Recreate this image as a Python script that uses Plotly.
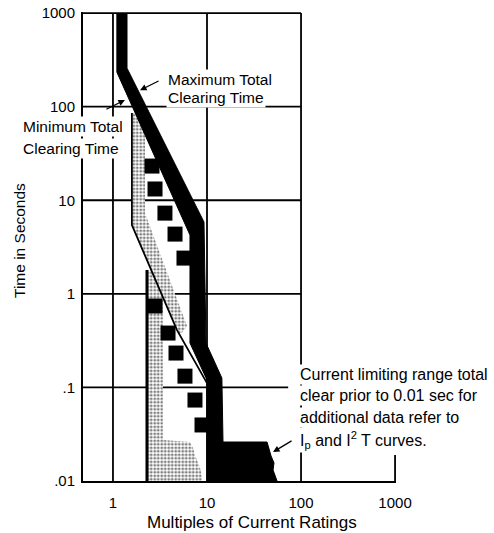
import numpy as np
import plotly.graph_objects as go

# ---------------- data (multiples of current rating, seconds) ----------------
x_tick_values = [1, 10, 100, 1000]
x_tick_labels = ["1", "10", "100", "1000"]
y_tick_values = [0.01, 0.1, 1, 10, 100, 1000]
y_tick_labels = [".01", ".1", "1", "10", "100", "1000"]

# Maximum total clearing time band (solid black)
max_band_current = [1.41, 1.41, 9.29, 9.75, 14.4, 14.8, 43.5, 45.7, 48.0, 51.6, 50.4, 55.6,
                    10.0, 10.0, 6.59, 6.59, 1.10, 1.10]
max_band_time = [1000, 258, 5.85, 0.298, 0.126, 0.0261, 0.0261, 0.0214, 0.0185, 0.0156, 0.0131, 0.01,
                 0.01, 0.120, 0.298, 4.25, 234, 1000]

# Minimum total clearing time band, upper (stippled)
min_upper_current = [1.59, 2.19, 2.19, 6.13, 5.16, 1.59]
min_upper_time = [85.5, 85.5, 7.29, 0.453, 0.363, 5.43]

# Minimum total clearing time band, lower (stippled)
min_lower_current = [2.36, 3.01, 3.40, 3.40, 6.59, 7.10, 7.45, 8.02, 8.43, 8.85, 8.85, 2.36]
min_lower_time = [1.80, 1.80, 1.24, 0.0274, 0.0261, 0.0225, 0.0190, 0.0156, 0.0138, 0.0113, 0.01, 0.01]

# Outline of the minimum band
min_edge_current = [1.59, 1.59, 4.80, 10.0]
min_edge_time = [85.5, 5.43, 0.410, 0.111]
lower_edge_current = [2.30, 2.30]
lower_edge_time = [1.80, 0.01]

# Heavy dashed curves (blocks)
dash_upper_current = [2.60, 2.80, 3.57, 4.57, 5.69]
dash_upper_time = [23.2, 13.2, 7.29, 4.35, 2.41]
dash_lower_current = [2.80, 3.85, 4.68, 5.83, 7.45, 8.85]
dash_lower_time = [0.741, 0.381, 0.233, 0.132, 0.0733, 0.0397]

# Grid extents
h_grid_time = [1000, 100, 10, 1, 0.1]
h_grid_end = [100, 100, 100, 100, 73]
v_grid_current = [1, 10, 100, 1000]
v_grid_top = [1000, 1000, 1000, 0.019]
X_MIN = 0.48

FONT = "Liberation Sans, Arial, sans-serif"

fig = go.Figure()

# grid lines
gx, gy = [], []
for t, e in zip(h_grid_time, h_grid_end):
    gx += [X_MIN, e, None]
    gy += [t, t, None]
for c, top in zip(v_grid_current, v_grid_top):
    gx += [c, c, None]
    gy += [0.01, top, None]
fig.add_trace(go.Scatter(x=gx, y=gy, mode="lines", line=dict(color="black", width=1.8),
                         hoverinfo="skip"))

stipple = dict(shape=".", fgcolor="black", bgcolor="white", size=3.5, solidity=0.5)

fig.add_trace(go.Scatter(x=min_upper_current, y=min_upper_time, mode="lines", fill="toself",
                         fillcolor="white", fillpattern=stipple, line=dict(width=0)))
fig.add_trace(go.Scatter(x=min_lower_current, y=min_lower_time, mode="lines", fill="toself",
                         fillcolor="white", fillpattern=stipple, line=dict(width=0)))
fig.add_trace(go.Scatter(x=min_edge_current, y=min_edge_time, mode="lines",
                         line=dict(color="black", width=1.8)))
fig.add_trace(go.Scatter(x=lower_edge_current, y=lower_edge_time, mode="lines",
                         line=dict(color="black", width=3)))

fig.add_trace(go.Scatter(x=max_band_current, y=max_band_time, mode="lines", fill="toself",
                         fillcolor="black", line=dict(color="black", width=1)))

for xs, ys in [(dash_upper_current, dash_upper_time), (dash_lower_current, dash_lower_time)]:
    fig.add_trace(go.Scatter(x=xs, y=ys, mode="markers",
                             marker=dict(symbol="square", size=15, color="black")))

# ---------------- layout ----------------
L, R, T, B = 83, 98, 12, 52
WIDTH, HEIGHT = 494, 533
PW, PH = WIDTH - L - R, HEIGHT - T - B


def px(xp):
    return (xp - L) / PW


def py(yp):
    return (HEIGHT - B - yp) / PH


annotations = []
texts = [
    ("Maximum Total", 166, 79, 15.5),
    ("Clearing Time", 166, 98, 15.5),
    ("Minimum Total", 21, 127, 15.5),
    ("Clearing Time", 21, 148, 15.5),
    ("Current limiting range total", 298, 374, 16),
    ("clear prior to 0.01 sec for", 298, 395, 16),
    ("additional data refer to", 298, 417, 16),
    ("I<sub>p</sub> and I<sup>2</sup> T curves.", 298, 440, 16),
]
for txt, xl, yc, fs in texts:
    annotations.append(dict(text=txt, xref="paper", yref="paper", x=px(xl), y=py(yc),
                            xanchor="left", yanchor="middle", showarrow=False,
                            bgcolor="white", borderpad=1,
                            font=dict(family=FONT, size=fs, color="black")))

annotations.append(dict(text="Multiples of Current Ratings", xref="paper", yref="paper",
                        x=px(252), y=py(522), xanchor="center", yanchor="middle",
                        showarrow=False, font=dict(family=FONT, size=17, color="black")))
annotations.append(dict(text="Time in Seconds", xref="paper", yref="paper",
                        x=px(19), y=py(241), xanchor="center", yanchor="middle",
                        textangle=-90, showarrow=False,
                        font=dict(family=FONT, size=15.5, color="black")))

# arrows (head in data coordinates, tail offset in pixels)
arrows = [((1.94, 150), 20, -10), ((1.34, 118), -20, 10), ((50.4, 0.0204), 20, -12)]
for (cx, ty), ax, ay in arrows:
    annotations.append(dict(text="", x=np.log10(cx), y=np.log10(ty), xref="x", yref="y",
                            showarrow=True, ax=ax, ay=ay, arrowhead=2, arrowsize=1,
                            arrowwidth=1.3, arrowcolor="black", standoff=0))

fig.update_layout(
    width=WIDTH, height=HEIGHT, margin=dict(l=L, r=R, t=T, b=B),
    paper_bgcolor="white", plot_bgcolor="white", showlegend=False, hovermode=False,
    xaxis=dict(type="log", range=[np.log10(X_MIN), 3.01], showgrid=False, zeroline=False,
               showline=True, linecolor="black", linewidth=2, ticks="", automargin=False,
               tickvals=x_tick_values, ticktext=x_tick_labels, ticklabelstandoff=7,
               ticklabeloverflow="allow",
               tickfont=dict(family=FONT, size=15, color="black")),
    yaxis=dict(type="log", range=[-2, 3.012], showgrid=False, zeroline=False,
               showline=True, linecolor="black", linewidth=2, ticks="", automargin=False,
               tickvals=y_tick_values, ticktext=y_tick_labels, ticklabelstandoff=3,
               ticklabeloverflow="allow",
               tickfont=dict(family=FONT, size=15, color="black")),
    annotations=annotations,
)

fig.write_html("out.html", config={"displayModeBar": False, "staticPlot": True},
               post_script="document.body.style.margin='0';")
